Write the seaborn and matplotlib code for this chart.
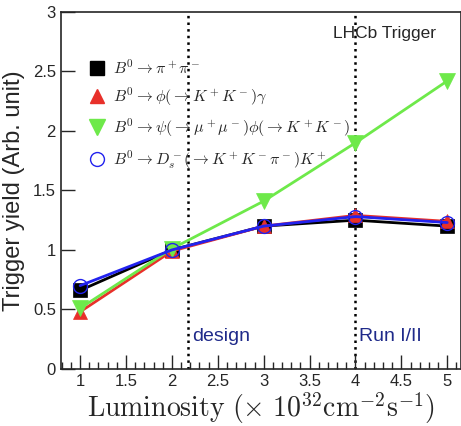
import numpy as np
import pandas as pd
import matplotlib
matplotlib.use("Agg")
import matplotlib.pyplot as plt
from matplotlib.lines import Line2D
from matplotlib.ticker import MultipleLocator
import seaborn as sns

# luminosity points (x 10^32 cm^-2 s^-1)
lumi = [1, 2, 3, 4, 5]

# trigger yields
pipi = [0.66, 1.00, 1.20, 1.25, 1.20]
phigamma = [0.48, 0.99, 1.20, 1.29, 1.24]
psiphi = [0.51, 1.01, 1.41, 1.90, 2.42]
dsk = [0.70, 1.00, 1.20, 1.28, 1.23]

labels = [
    r"$B^0 \rightarrow \pi^+\pi^-$",
    r"$B^0 \rightarrow \phi(\rightarrow K^+K^-)\gamma$",
    r"$B^0 \rightarrow \psi(\rightarrow \mu^+\mu^-)\phi(\rightarrow K^+K^-)$",
    r"$B^0 \rightarrow D_s^-(\rightarrow K^+K^-\pi^-)K^+$",
]
colors = ["black", "#e8302a", "#6ee94a", "#2222ee"]
markers = ["s", "^", "v", "o"]
marker_sizes = [10, 10, 11, 10]

vlines = [2.18, 4.0]
vline_text = ["design", "Run I/II"]

sns.set_style("ticks")
plt.rcParams["mathtext.fontset"] = "cm"
plt.rcParams["font.family"] = ["Liberation Sans", "DejaVu Sans"]

fig = plt.figure(figsize=(4.61, 4.26), dpi=100)
ax = fig.add_axes([0.132, 0.134, 0.868, 0.838])

for vals, lab, c, m, ms in zip([pipi, phigamma, psiphi, dsk], labels, colors, markers, marker_sizes):
    df = pd.DataFrame({"lumi": lumi, "yield": vals})
    face = "none" if m == "o" else c
    sns.lineplot(data=df, x="lumi", y="yield", ax=ax, color=c, lw=2,
                 marker=m, markersize=ms, markerfacecolor=face,
                 markeredgecolor=c, markeredgewidth=1 if m == "o" else 0.5)

for xv, txt in zip(vlines, vline_text):
    ax.axvline(xv, color="black", ls=":", lw=1.8, zorder=0)
    ax.text(xv + 0.04, 0.2, txt, color="#1f2a8a", fontsize=14, ha="left", va="bottom")

ax.text(3.75, 2.82, "LHCb Trigger", fontsize=12.5, ha="left", va="center")

handles = []
for lab, c, m, ms in zip(labels, colors, markers, marker_sizes):
    face = "none" if m == "o" else c
    handles.append(Line2D([], [], ls="none", marker=m, markersize=ms, color=c,
                          markerfacecolor=face, label=lab))
ax.legend(handles=handles, loc="upper left", bbox_to_anchor=(0.015, 0.91), frameon=False,
          fontsize=11.5, handletextpad=0.0, labelspacing=0.55, borderaxespad=0.5)

ax.set_xlim(0.79, 5.15)
ax.set_ylim(0, 3)
ax.xaxis.set_minor_locator(MultipleLocator(0.1))
ax.set_xticks([1, 1.5, 2, 2.5, 3, 3.5, 4, 4.5, 5])
ax.set_xticklabels(["1", "1.5", "2", "2.5", "3", "3.5", "4", "4.5", "5"])
ax.set_yticks([0, 0.5, 1, 1.5, 2, 2.5, 3])
ax.set_yticklabels(["0", "0.5", "1", "1.5", "2", "2.5", "3"])
ax.tick_params(which="major", direction="in", length=10, width=1, labelsize=12)
ax.tick_params(which="minor", direction="in", length=5, width=1)
ax.tick_params(axis="y", which="minor", length=0)
for s in ax.spines.values():
    s.set_linewidth(1.2)

ax.set_ylabel("Trigger yield (Arb. unit)", fontsize=17, labelpad=6)
ax.set_xlabel(r"$\mathrm{Luminosity}\ (\times\ 10^{32}\mathrm{cm}^{-2}\mathrm{s}^{-1})$",
              fontsize=20, labelpad=1)

fig.savefig("out.png", dpi=100)
